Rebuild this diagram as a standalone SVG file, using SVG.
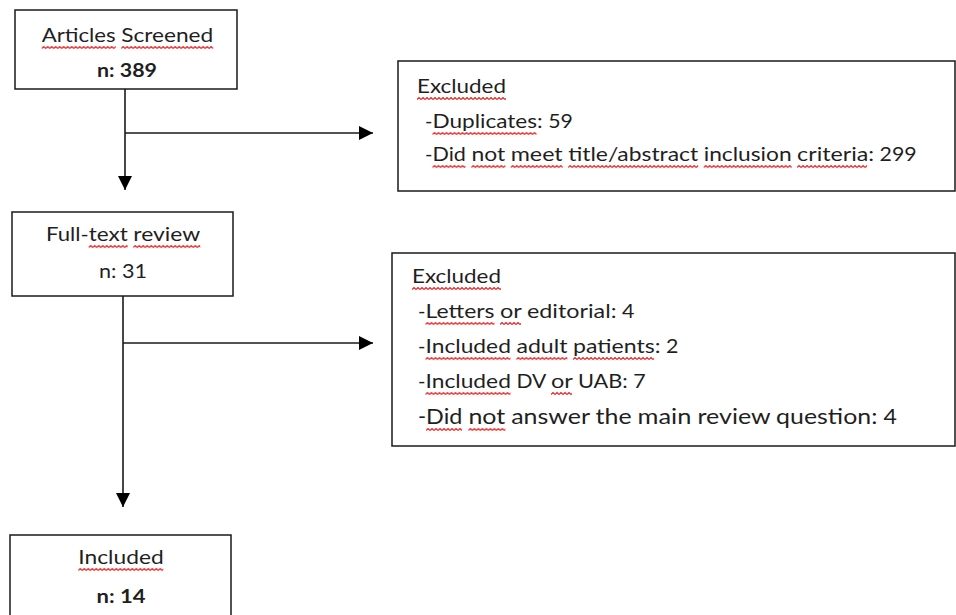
<svg xmlns="http://www.w3.org/2000/svg" width="956" height="615" viewBox="0 0 956 615">
  <style>
    .box { fill: #ffffff; stroke: #1a1a1a; stroke-width: 1.5; }
    .t { font-family: Lato, "Open Sans", "Liberation Sans", sans-serif; font-size: 19px; fill: #1f1f1f; }
    .big { font-size: 20.5px; }
    .b { font-weight: bold; }
    .c { text-anchor: middle; }
    .line { fill: none; stroke: #1a1a1a; stroke-width: 1.6; }
    .sq { fill: url(#wave); }
  </style>
  <defs>
    <marker id="arrow" viewBox="0 0 10 10" refX="10" refY="5" markerWidth="15" markerHeight="14" markerUnits="userSpaceOnUse" orient="auto">
      <path d="M0,0 L10,5 L0,10 z" fill="#000000"/>
    </marker>
    <pattern id="wave" patternUnits="userSpaceOnUse" x="0" y="0" width="4" height="3">
      <path d="M0,2.5 L2,0.5 L4,2.5" fill="none" stroke="#f01c1c" stroke-width="1.1"/>
    </pattern>
  </defs>

  <g id="connectors">
    <path class="line" d="M125,89 V190" marker-end="url(#arrow)"/>
    <path class="line" d="M125,133 H373" marker-end="url(#arrow)"/>
    <path class="line" d="M123,296 V507" marker-end="url(#arrow)"/>
    <path class="line" d="M123,343 H373" marker-end="url(#arrow)"/>
  </g>

  <g id="articles-screened">
    <rect class="box" x="15" y="10" width="222" height="79"/>
    <text class="t" y="42"><tspan x="41.7" textLength="74" lengthAdjust="spacingAndGlyphs">Articles</tspan> <tspan x="121.2" textLength="92.1" lengthAdjust="spacingAndGlyphs">Screened</tspan></text>
    <text class="t c b" x="127" y="77" textLength="60" lengthAdjust="spacingAndGlyphs">n: 389</text>
    <rect class="sq" transform="translate(41.7,46)" width="74" height="3"/>
    <rect class="sq" transform="translate(121.2,46)" width="92" height="3"/>
  </g>

  <g id="excluded-1">
    <rect class="box" x="398" y="61" width="557" height="130"/>
    <text class="t" x="417" y="93" textLength="89" lengthAdjust="spacingAndGlyphs">Excluded</text>
    <text class="t" y="128"><tspan x="425" textLength="7.5" lengthAdjust="spacingAndGlyphs">-</tspan><tspan x="432.5" textLength="110.2" lengthAdjust="spacingAndGlyphs">Duplicates:</tspan> <tspan x="548.2" textLength="24.7" lengthAdjust="spacingAndGlyphs">59</tspan></text>
    <text class="t" y="161"><tspan x="425" textLength="7.5" lengthAdjust="spacingAndGlyphs">-</tspan><tspan x="432.5" textLength="33.4" lengthAdjust="spacingAndGlyphs">Did</tspan> <tspan x="471.4" textLength="33.8" lengthAdjust="spacingAndGlyphs">not</tspan> <tspan x="510.7" textLength="52" lengthAdjust="spacingAndGlyphs">meet</tspan> <tspan x="568.2" textLength="130" lengthAdjust="spacingAndGlyphs">title/abstract</tspan> <tspan x="703.7" textLength="87.9" lengthAdjust="spacingAndGlyphs">inclusion</tspan> <tspan x="797.1" textLength="77" lengthAdjust="spacingAndGlyphs">criteria:</tspan> <tspan x="879.6" textLength="37.1" lengthAdjust="spacingAndGlyphs">299</tspan></text>
    <rect class="sq" transform="translate(417,97)" width="89" height="3"/>
    <rect class="sq" transform="translate(432.5,132)" width="104" height="3"/>
    <rect class="sq" transform="translate(432.5,165)" width="33" height="3"/>
    <rect class="sq" transform="translate(471.4,165)" width="34" height="3"/>
    <rect class="sq" transform="translate(510.7,165)" width="52" height="3"/>
    <rect class="sq" transform="translate(568.2,165)" width="130" height="3"/>
    <rect class="sq" transform="translate(703.7,165)" width="88" height="3"/>
    <rect class="sq" transform="translate(797.1,165)" width="70" height="3"/>
  </g>

  <g id="full-text-review">
    <rect class="box" x="12" y="212" width="221" height="84"/>
    <text class="t" y="241"><tspan x="46" textLength="42.7" lengthAdjust="spacingAndGlyphs">Full-</tspan><tspan x="88.7" textLength="39.1" lengthAdjust="spacingAndGlyphs">text</tspan> <tspan x="133.3" textLength="66.9" lengthAdjust="spacingAndGlyphs">review</tspan></text>
    <text class="t c" x="123" y="278" textLength="48" lengthAdjust="spacingAndGlyphs">n: 31</text>
    <rect class="sq" transform="translate(88.7,245)" width="39" height="3"/>
    <rect class="sq" transform="translate(133.3,245)" width="67" height="3"/>
  </g>

  <g id="excluded-2">
    <rect class="box" x="392" y="253" width="563" height="193"/>
    <text class="t" x="412" y="283" textLength="89" lengthAdjust="spacingAndGlyphs">Excluded</text>
    <text class="t" y="318"><tspan x="418" textLength="7.5" lengthAdjust="spacingAndGlyphs">-</tspan><tspan x="425.5" textLength="69" lengthAdjust="spacingAndGlyphs">Letters</tspan> <tspan x="500" textLength="21.4" lengthAdjust="spacingAndGlyphs">or</tspan> <tspan x="527" textLength="89.5" lengthAdjust="spacingAndGlyphs">editorial:</tspan> <tspan x="622" textLength="12.4" lengthAdjust="spacingAndGlyphs">4</tspan></text>
    <text class="t" y="353"><tspan x="418" textLength="7.5" lengthAdjust="spacingAndGlyphs">-</tspan><tspan x="425.5" textLength="85.4" lengthAdjust="spacingAndGlyphs">Included</tspan> <tspan x="516.4" textLength="51.1" lengthAdjust="spacingAndGlyphs">adult</tspan> <tspan x="573" textLength="87.5" lengthAdjust="spacingAndGlyphs">patients:</tspan> <tspan x="666" textLength="12.4" lengthAdjust="spacingAndGlyphs">2</tspan></text>
    <text class="t" y="388"><tspan x="418" textLength="7.5" lengthAdjust="spacingAndGlyphs">-</tspan><tspan x="425.5" textLength="85.4" lengthAdjust="spacingAndGlyphs">Included</tspan> <tspan x="516.4" textLength="29.1" lengthAdjust="spacingAndGlyphs">DV</tspan> <tspan x="551" textLength="21.4" lengthAdjust="spacingAndGlyphs">or</tspan> <tspan x="577.9" textLength="49.9" lengthAdjust="spacingAndGlyphs">UAB:</tspan> <tspan x="633.3" textLength="12.4" lengthAdjust="spacingAndGlyphs">7</tspan></text>
    <text class="t big" y="424"><tspan x="418" textLength="8.1" lengthAdjust="spacingAndGlyphs">-</tspan><tspan x="426.1" textLength="36.3" lengthAdjust="spacingAndGlyphs">Did</tspan> <tspan x="468.4" textLength="36.8" lengthAdjust="spacingAndGlyphs">not</tspan> <tspan x="511.2" textLength="78.4" lengthAdjust="spacingAndGlyphs">answer</tspan> <tspan x="595.6" textLength="36" lengthAdjust="spacingAndGlyphs">the</tspan> <tspan x="637.6" textLength="53.8" lengthAdjust="spacingAndGlyphs">main</tspan> <tspan x="697.5" textLength="72.6" lengthAdjust="spacingAndGlyphs">review</tspan> <tspan x="776.1" textLength="101.3" lengthAdjust="spacingAndGlyphs">question:</tspan> <tspan x="883.4" textLength="13.4" lengthAdjust="spacingAndGlyphs">4</tspan></text>
    <rect class="sq" transform="translate(412,287)" width="89" height="3"/>
    <rect class="sq" transform="translate(425.5,322)" width="69" height="3"/>
    <rect class="sq" transform="translate(500,322)" width="21" height="3"/>
    <rect class="sq" transform="translate(425.5,357)" width="85" height="3"/>
    <rect class="sq" transform="translate(516.4,357)" width="51" height="3"/>
    <rect class="sq" transform="translate(573,357)" width="81" height="3"/>
    <rect class="sq" transform="translate(425.5,392)" width="85" height="3"/>
    <rect class="sq" transform="translate(551,392)" width="21" height="3"/>
    <rect class="sq" transform="translate(426.1,428)" width="36" height="3"/>
    <rect class="sq" transform="translate(468.4,428)" width="37" height="3"/>
  </g>

  <g id="included">
    <rect class="box" x="10" y="535" width="221" height="90"/>
    <text class="t c" x="121" y="564" textLength="85.4" lengthAdjust="spacingAndGlyphs">Included</text>
    <text class="t c b" x="121" y="603" textLength="49" lengthAdjust="spacingAndGlyphs">n: 14</text>
    <rect class="sq" transform="translate(78.3,568)" width="85" height="3"/>
  </g>
</svg>
